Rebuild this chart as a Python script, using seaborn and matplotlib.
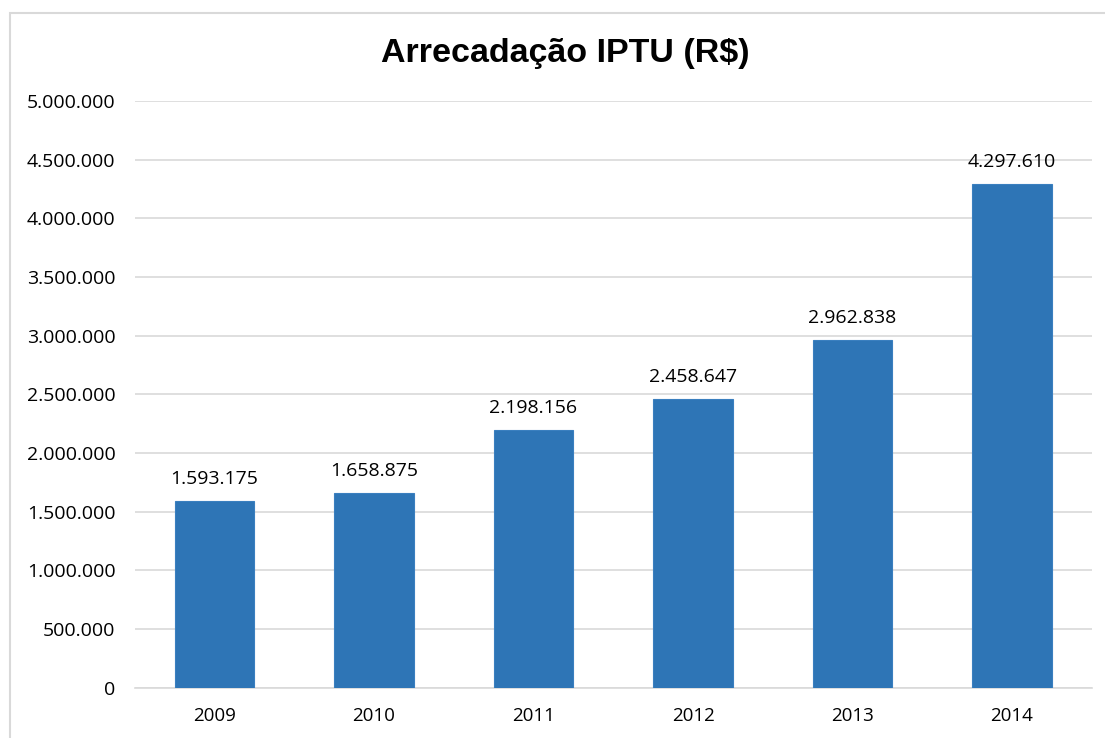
import matplotlib
matplotlib.use("Agg")
import matplotlib.pyplot as plt
import seaborn as sns
import pandas as pd
from matplotlib.patches import Rectangle

# data
anos = ["2009", "2010", "2011", "2012", "2013", "2014"]
arrecadacao = [1593175, 1658875, 2198156, 2458647, 2962838, 4297610]
yticks = [0, 500000, 1000000, 1500000, 2000000, 2500000, 3000000, 3500000, 4000000, 4500000, 5000000]

df = pd.DataFrame({"ano": anos, "valor": arrecadacao})

sns.set_style("white")
plt.rcParams["font.family"] = ["Open Sans", "DejaVu Sans"]
plt.rcParams["text.color"] = "black"
plt.rcParams["xtick.color"] = "black"
plt.rcParams["ytick.color"] = "black"


def fmt(v):
    return f"{v:,.0f}".replace(",", ".")


fig = plt.figure(figsize=(11.05, 7.38), dpi=100)
ax = fig.add_axes([0.122, 0.068, 0.866, 0.795])

sns.barplot(data=df, x="ano", y="valor", color="#2E75B6", width=0.5,
            saturation=1, ax=ax, zorder=3, edgecolor="#3a7fbf", linewidth=0.8)

ax.set_ylim(0, 5000000)
ax.set_yticks(yticks)
ax.set_yticklabels([fmt(t) for t in yticks], fontsize=14)
ax.tick_params(axis="x", labelsize=13.5, length=0, pad=14)
ax.tick_params(axis="y", length=0, pad=14)
ax.grid(axis="y", color="#d9d9d9", linewidth=1.2, zorder=0)
ax.set_xlabel("")
ax.set_ylabel("")
for s in ["top", "right", "left"]:
    ax.spines[s].set_visible(False)
ax.spines["bottom"].set_color("#d9d9d9")
ax.spines["bottom"].set_linewidth(1.2)

for i, v in enumerate(arrecadacao):
    ax.text(i, v + 110000, fmt(v), ha="center", va="bottom", fontsize=14)

fig.text(0.512, 0.927, "Arrecadação IPTU (R$)", family=["Liberation Sans", "DejaVu Sans"],
         ha="center", va="center", fontsize=24.5, fontweight="bold")

# outer frame
fig.patches.append(Rectangle((10 / 1105, -0.01), 1.2, 1 - 13 / 738 + 0.01,
                             transform=fig.transFigure, fill=False,
                             edgecolor="#d9d9d9", linewidth=1.5))

plt.savefig("out.png", dpi=100)
